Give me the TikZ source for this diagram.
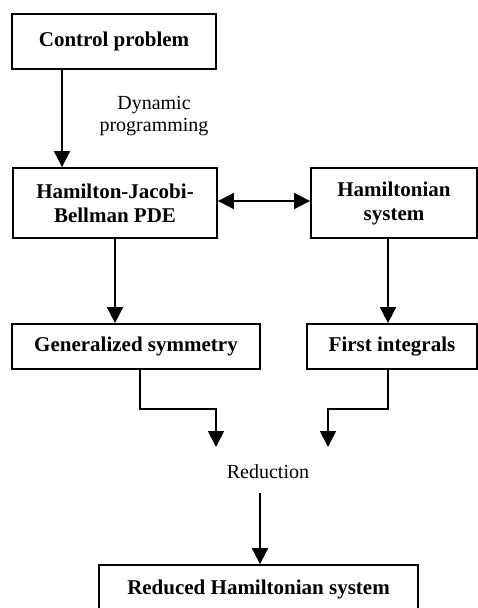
\documentclass[tikz,border=0pt]{standalone}
\usepackage{fontspec}
\setmainfont{Liberation Serif}
\usetikzlibrary{positioning,arrows.meta,calc}

\begin{document}
\begin{tikzpicture}[
  x=1pt, y=-1pt,
  box/.style    = {draw, line width=1.8pt, align=center, inner sep=0pt,
                   font=\fontsize{21}{24}\selectfont\bfseries},
  lbl/.style    = {align=center, inner sep=0pt,
                   font=\fontsize{20}{22}\selectfont},
  arr/.style    = {-{Triangle[length=16pt,width=16pt]}, line width=1.8pt},
  dblarr/.style = {{Triangle[length=16pt,width=16pt]}-{Triangle[length=16pt,width=16pt]}, line width=1.8pt},
]
\useasboundingbox (0,0) rectangle (478,608);

\node[box, minimum width=204pt, minimum height=55pt] (ctrl) at (114,41.5) {Control problem};
\node[lbl] (dynprog) at (154,116) {Dynamic\\ programming};
\node[box, minimum width=204pt, minimum height=70pt] (hjb) at (115,203) {Hamilton-Jacobi-\\ Bellman PDE};
\node[box, minimum width=166pt, minimum height=70pt] (ham) at (394,203) {Hamiltonian\\ system};
\node[box, minimum width=248pt, minimum height=45pt] (gensym) at (136,346.5) {Generalized symmetry};
\node[box, minimum width=170pt, minimum height=45pt] (firstint) at (392,346.5) {First integrals};
\node[lbl, minimum height=42pt] (reduc) at (268,472) {Reduction};
\node[box, minimum width=319pt, minimum height=48pt] (redham) at (258.5,589) {Reduced Hamiltonian system};

\coordinate (joinL) at (216,447);
\coordinate (joinR) at (328,447);

\draw[arr] ([xshift=-52pt]ctrl.south) -- ([xshift=-52pt]ctrl.south |- hjb.north);
\draw[dblarr] ([yshift=2pt]hjb.east) -- ([yshift=2pt]hjb.east -| ham.west);
\draw[arr] (hjb.south) -- (hjb.south |- gensym.north);
\draw[arr] ([xshift=-6pt]ham.south) -- ([xshift=-6pt]ham.south |- firstint.north);
\draw[arr] ([xshift=4pt]gensym.south) -- ++(0,39) -| (joinL);
\draw[arr] ([xshift=-4pt]firstint.south) -- ++(0,39) -| (joinR);
\draw[arr] ([xshift=-8pt]reduc.south) -- ([xshift=-8pt]reduc.south |- redham.north);

\end{tikzpicture}
\end{document}
